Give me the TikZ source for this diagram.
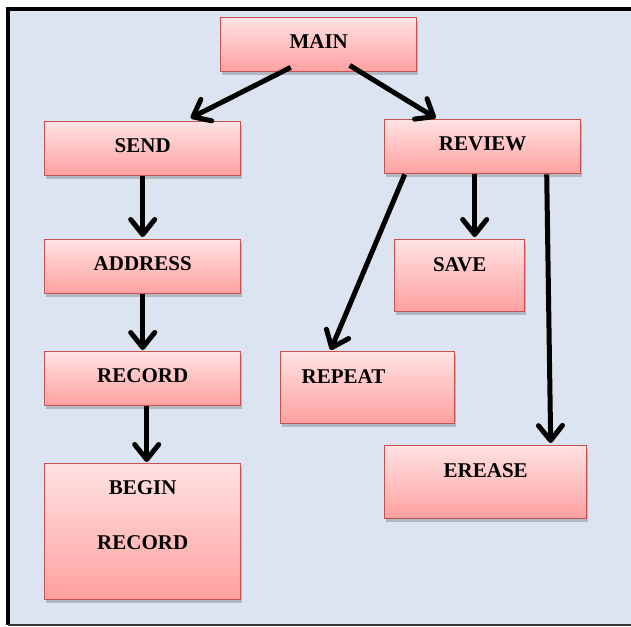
\documentclass[tikz,border=0pt]{standalone}
\usepackage{fontspec}
\setmainfont{Liberation Serif}
\usetikzlibrary{arrows.meta,shadows}
\definecolor{framebg}{RGB}{219,228,240}
\definecolor{boxtop}{RGB}{255,226,226}
\definecolor{boxbottom}{RGB}{255,160,160}
\definecolor{boxline}{RGB}{196,82,80}
\definecolor{framegray}{RGB}{50,55,62}
\tikzset{
  menubox/.style={draw=boxline,line width=1.4pt,top color=boxtop,bottom color=boxbottom,
    anchor=north west,inner xsep=0pt,inner ysep=0pt,align=center,
    font=\fontsize{21}{25}\selectfont\bfseries,text height=31pt,text depth=23pt,
    drop shadow={shadow xshift=1pt,shadow yshift=-3pt,opacity=0.35,fill=black!60}},
  tallbox/.style={menubox,text height=32pt,text depth=40pt},
  callflow/.style={-{Straight Barb[length=15pt,width=24pt,round]},line width=5pt,draw=black}
}
\begin{document}
\begin{tikzpicture}[x=1pt,y=-1pt]
  \useasboundingbox (0,0) rectangle (631,626);
  \fill[framebg] (8,9.5) rectangle (631,625);
  \draw[line width=4pt] (631,9.5) -- (8,9.5) -- (8,625);
  \draw[framegray,line width=2pt] (8,625) -- (631,625);
  \node[menubox,minimum width=196pt] (main) at (220,17) {MAIN};
  \node[menubox,minimum width=196pt] (send) at (44,121) {SEND};
  \node[menubox,minimum width=196pt] (review) at (384,119) {REVIEW};
  \node[menubox,minimum width=196pt] (address) at (44,239) {ADDRESS};
  \node[tallbox,minimum width=130pt] (save) at (394,239) {SAVE};
  \node[menubox,minimum width=196pt] (record) at (44,351) {RECORD};
  \node[tallbox,text width=132pt,align=left,inner xsep=21pt] (repeat) at (280,351) {REPEAT};
  \node[tallbox,minimum width=202pt,text depth=41pt] (erease) at (384,445) {EREASE};
  \node[menubox,minimum width=196pt,text height=86pt,text depth=50pt] (beginrec) at (44,463) {BEGIN\\[30pt]RECORD};
  \draw[callflow] ([xshift=-28pt,yshift=5pt]main.south) -- ([xshift=48pt,yshift=3pt]send.north);
  \draw[callflow] ([xshift=31pt,yshift=7pt]main.south) -- ([xshift=-47pt,yshift=1pt]review.north);
  \draw[callflow] (send.south) -- ([yshift=2pt]address.north);
  \draw[callflow] (address.south) -- ([yshift=1pt]record.north);
  \draw[callflow] ([xshift=4pt]record.south) -- ([xshift=4pt,yshift=1pt]beginrec.north);
  \draw[callflow] ([xshift=-78pt]review.south) -- ([xshift=-37pt,yshift=1pt]repeat.north);
  \draw[callflow] ([xshift=-8pt]review.south) -- ([xshift=15pt,yshift=2pt]save.north);
  \draw[callflow] ([xshift=64pt]review.south) -- ([xshift=65pt,yshift=2pt]erease.north);
\end{tikzpicture}
\end{document}
